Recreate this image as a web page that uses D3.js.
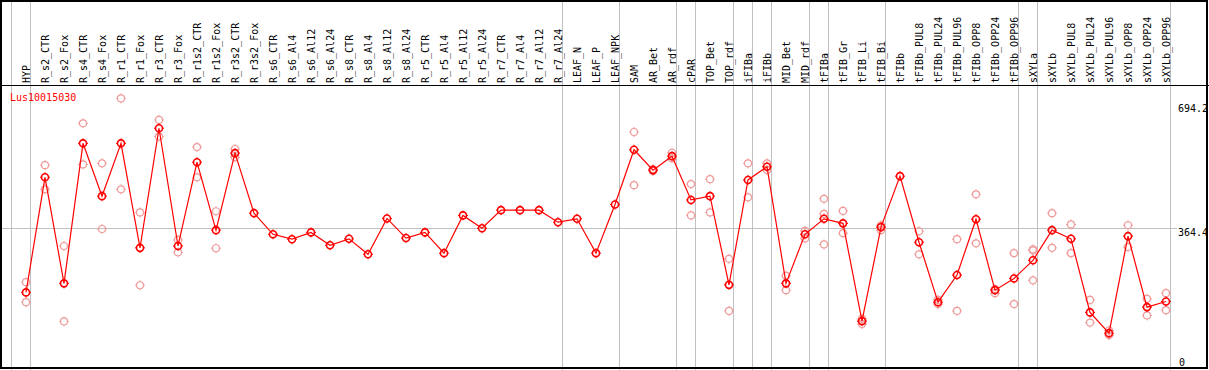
<!DOCTYPE html>
<html>
<head>
<meta charset="utf-8">
<script src="https://cdn.jsdelivr.net/npm/d3@7"></script>
<style>
  html, body { margin: 0; padding: 0; background: #fff; }
  svg { display: block; }
  text { font-family: "DejaVu Sans Mono", monospace; font-size: 10px; }
</style>
</head>
<body>
<div id="chart"></div>
<script>
const geneId = 'Lus10015030';

const samples = [
  'HYP', 'R_s2_CTR', 'R_s2_Fox', 'R_s4_CTR', 'R_s4_Fox', 'R_r1_CTR', 'R_r1_Fox',
  'R_r3_CTR', 'R_r3_Fox', 'R_r1s2_CTR', 'R_r1s2_Fox', 'R_r3s2_CTR', 'R_r3s2_Fox',
  'R_s6_CTR', 'R_s6_Al4', 'R_s6_Al12', 'R_s6_Al24', 'R_s8_CTR', 'R_s8_Al4',
  'R_s8_Al12', 'R_s8_Al24', 'R_r5_CTR', 'R_r5_Al4', 'R_r5_Al12', 'R_r5_Al24',
  'R_r7_CTR', 'R_r7_Al4', 'R_r7_Al12', 'R_r7_Al24', 'LEAF_N', 'LEAF_P', 'LEAF_NPK',
  'SAM', 'AR_Bet', 'AR_rdf', 'cPAR', 'TOP_Bet', 'TOP_rdf', 'iFIBa', 'iFIBb',
  'MID_Bet', 'MID_rdf', 'tFIBa', 'tFIB_Gr', 'tFIB_Li', 'tFIB_Bi', 'tFIBb',
  'tFIBb_PUL8', 'tFIBb_PUL24', 'tFIBb_PUL96', 'tFIBb_OPP8', 'tFIBb_OPP24', 'tFIBb_OPP96',
  'sXYLa', 'sXYLb', 'sXYLb_PUL8', 'sXYLb_PUL24', 'sXYLb_PUL96', 'sXYLb_OPP8',
  'sXYLb_OPP24', 'sXYLb_OPP96'
];

// mean expression per sample (red line)
const means = [
  195, 500, 219, 590, 450, 590, 313, 630, 318, 540, 360, 564, 405,
  349, 336, 354, 320, 337, 296, 391, 339, 354, 299, 399, 365,
  413, 413, 413, 381, 390, 299, 428,
  573, 519, 556, 440, 450, 215, 493, 528, 219, 349,
  390, 378, 119, 368, 503,
  328, 169, 241, 389, 201, 232,
  280, 360, 337, 142, 87, 344, 156, 171
];

// replicate values per sample (pink circles)
const replicates = [
  [222, 169], [532, 468], [318, 118], [643, 534], [537, 363], [709, 468], [407, 214],
  [652, 608], [334, 301], [580, 500], [410, 312], [575, 553], [],
  [], [], [], [], [], [], [], [], [], [], [], [],
  [], [], [], [], [], [], [],
  [620, 479], [522, 517], [565, 550], [482, 399], [495, 407], [284, 146], [537, 447],
  [537, 519], [239, 201], [358, 338],
  [443, 403, 322], [411, 352], [125, 111], [373, 360], [],
  [357, 296], [175, 164], [336, 146], [455, 325], [204, 193], [299, 164],
  [309, 306, 227], [405, 313], [375, 299], [175, 115], [94, 82], [373, 315],
  [178, 134], [193, 148]
];

// first sample of each block, separated by grey vertical lines
const groupStarts = [
  'HYP', 'R_s2_CTR', 'LEAF_N', 'SAM', 'cPAR', 'TOP_Bet', 'iFIBa', 'iFIBb',
  'MID_Bet', 'tFIBa', 'tFIB_Gr', 'tFIBb', 'sXYLa', 'sXYLb'
];

const yMax = 694.2;
const yRef = 364.4;

const width = 1209;
const height = 370;
const headerY = 85;

const svg = d3.select('#chart')
  .append('svg')
  .attr('width', width)
  .attr('height', height);

// Scales
const x = d3.scaleBand()
  .domain(samples)
  .range([11, 1170])
  .padding(0);

const px = d => x(d) + 15;

const y = d3.scaleLinear()
  .domain([0, yMax])
  .range([366, 104]);

// Grey group separators
const sepX = groupStarts.map(s => x(s)).concat([x.range()[1]]);
svg.append('g')
  .selectAll('line')
  .data(sepX)
  .enter().append('line')
  .attr('x1', d => Math.round(d) + 0.5)
  .attr('x2', d => Math.round(d) + 0.5)
  .attr('y1', 0)
  .attr('y2', height)
  .attr('stroke', '#c0c0c0')
  .attr('stroke-width', 1)
  .attr('shape-rendering', 'crispEdges');

// Reference line
svg.append('line')
  .attr('x1', 1)
  .attr('x2', 1177)
  .attr('y1', Math.round(y(yRef)) + 0.5)
  .attr('y2', Math.round(y(yRef)) + 0.5)
  .attr('stroke', '#c0c0c0')
  .attr('shape-rendering', 'crispEdges');

// Header separator
svg.append('line')
  .attr('x1', 0)
  .attr('x2', width)
  .attr('y1', headerY + 0.5)
  .attr('y2', headerY + 0.5)
  .attr('stroke', '#000')
  .attr('stroke-width', 1.5)
  .attr('shape-rendering', 'crispEdges');

// Sample labels (rotated)
svg.append('g')
  .selectAll('text')
  .data(samples)
  .enter().append('text')
  .attr('transform', d => `translate(${px(d) + 3.6},${headerY - 2}) rotate(-90)`)
  .attr('text-anchor', 'start')
  .attr('fill', '#000')
  .text(d => d);

// Y labels
svg.append('text')
  .attr('x', 1178)
  .attr('y', y(yMax) + 7.5)
  .text(d3.format('.1f')(yMax));
svg.append('text')
  .attr('x', 1178)
  .attr('y', y(yRef) + 7.5)
  .text(d3.format('.1f')(yRef));
svg.append('text')
  .attr('x', 1179)
  .attr('y', y(0))
  .text('0');

// Gene title
svg.append('text')
  .attr('x', 10)
  .attr('y', 101)
  .attr('fill', '#ff0000')
  .text(geneId);

// circle marker with small ticks at N/E/S/W
function markerPath(cx, cy, r, t) {
  return `M${cx},${cy - r - t}v${t}M${cx},${cy + r}v${t}` +
    `M${cx - r - t},${cy}h${t}M${cx + r},${cy}h${t}`;
}

function drawMarkers(g, pts, color, sw) {
  const m = g.selectAll('g')
    .data(pts)
    .enter().append('g');
  m.append('circle')
    .attr('cx', d => d.x)
    .attr('cy', d => d.y)
    .attr('r', 3.5)
    .attr('fill', 'none')
    .attr('stroke', color)
    .attr('stroke-width', sw);
  m.append('path')
    .attr('d', d => markerPath(d.x, d.y, 3.5, 1.5))
    .attr('stroke', color)
    .attr('stroke-width', 1);
}

// Replicates
const repPts = [];
samples.forEach((s, i) => {
  replicates[i].forEach(v => repPts.push({ x: px(s), y: y(v) }));
});
drawMarkers(svg.append('g'), repPts, '#ef9c9c', 1.2);

// Mean line
const line = d3.line()
  .x((d, i) => px(samples[i]))
  .y(d => y(d));

svg.append('path')
  .datum(means)
  .attr('d', line)
  .attr('fill', 'none')
  .attr('stroke', '#ff0000')
  .attr('stroke-width', 1.2);

drawMarkers(svg.append('g'),
  means.map((v, i) => ({ x: px(samples[i]), y: y(v) })),
  '#ff0000', 1.6);

// Frame
svg.append('rect')
  .attr('x', 1)
  .attr('y', 1)
  .attr('width', 1206)
  .attr('height', 367)
  .attr('fill', 'none')
  .attr('stroke', '#000')
  .attr('stroke-width', 2);
</script>
</body>
</html>
